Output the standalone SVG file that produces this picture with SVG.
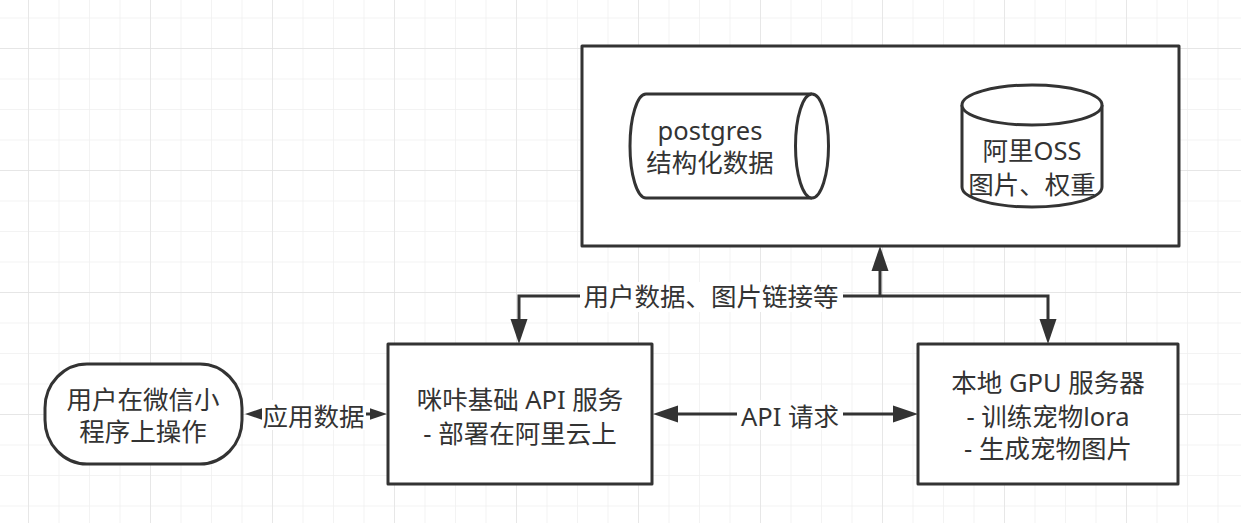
<svg xmlns="http://www.w3.org/2000/svg" width="1241" height="523" viewBox="0 0 1241 523">
<defs>
<pattern id="minor" patternUnits="userSpaceOnUse" x="28" y="48" width="30.5" height="30.5">
<path d="M0,0 H30.5 M0,0 V30.5" fill="none" stroke="#efefef" stroke-width="1.4"/>
</pattern>
<pattern id="major" patternUnits="userSpaceOnUse" x="28" y="48" width="122" height="122">
<path d="M0,0 H122 M0,0 V122" fill="none" stroke="#e2e2e2" stroke-width="1.4"/>
</pattern>
<marker id="arr" markerUnits="userSpaceOnUse" markerWidth="26" markerHeight="18" refX="3" refY="8.5" orient="auto-start-reverse" viewBox="0 0 26 17">
<path d="M0,0 L25,8.5 L0,17 Z" fill="#333333"/>
</marker>
<marker id="arrs" markerUnits="userSpaceOnUse" markerWidth="18" markerHeight="12" refX="2" refY="5.75" orient="auto-start-reverse" viewBox="0 0 18 11.5">
<path d="M0,0 L17,5.75 L0,11.5 Z" fill="#333333"/>
</marker>
<style>
.shape{fill:#ffffff;stroke:#333333;stroke-width:3;stroke-linejoin:round}
.line{fill:none;stroke:#333333;stroke-width:3;stroke-linejoin:miter}
.t{font-family:"Noto Sans","Noto Sans CJK SC",sans-serif;font-size:25.5px;fill:#333333;text-anchor:middle}
.bg{fill:#ffffff}
</style>
</defs>
<g id="grid">
<rect width="1241" height="523" fill="#ffffff"/>
<rect width="1241" height="523" fill="url(#minor)"/>
<rect width="1241" height="523" fill="url(#major)"/>
</g>
<g id="nodes">
<g id="storage">
<rect class="shape" x="582" y="46" width="597" height="200"/>
</g>
<g id="postgres">
<path class="shape" d="M646,94 H812 A16.5,52 0 0 1 812,198 H646 A16,52 0 0 1 646,94 Z"/>
<path class="shape" d="M812,94 A16.5,52 0 0 0 812,198" fill="none"/>
<text class="t" x="710" y="139.5">postgres</text>
<text class="t" x="710" y="172">结构化数据</text>
</g>
<g id="oss">
<path class="shape" d="M962,105 A70,20 0 0 1 1102,105 V187 A70,20 0 0 1 962,187 Z"/>
<path class="shape" d="M962,105 A70,20 0 0 0 1102,105" fill="none"/>
<text class="t" x="1032" y="160">阿里OSS</text>
<text class="t" x="1032" y="194">图片、权重</text>
</g>
<g id="user">
<rect class="shape" x="45" y="364" width="197" height="100" rx="42" ry="44"/>
<text class="t" x="143" y="409">用户在微信小</text>
<text class="t" x="143" y="441">程序上操作</text>
</g>
<g id="api">
<rect class="shape" x="388" y="344" width="264" height="140"/>
<text class="t" x="520" y="409">咪咔基础 API 服务</text>
<text class="t" x="520" y="443">- 部署在阿里云上</text>
</g>
<g id="gpu">
<rect class="shape" x="918" y="344" width="260" height="140"/>
<text class="t" x="1048" y="392">本地 GPU 服务器</text>
<text class="t" x="1048" y="426">- 训练宠物lora</text>
<text class="t" x="1048" y="458">- 生成宠物图片</text>
</g>
</g>
<g id="connectors">
<path class="line" d="M880,296 V268" marker-end="url(#arr)"/>
<path class="line" d="M880,296 H519 V322" marker-end="url(#arr)"/>
<path class="line" d="M880,296 H1048 V322" marker-end="url(#arr)"/>
<rect class="bg" x="580" y="282" width="263" height="30"/>
<text class="t" x="711" y="306">用户数据、图片链接等</text>
<path class="line" d="M260,414 H372" marker-start="url(#arrs)" marker-end="url(#arrs)"/>
<rect class="bg" x="262" y="400" width="104" height="30"/>
<text class="t" x="313.5" y="426">应用数据</text>
<path class="line" d="M675,414 H896" marker-start="url(#arr)" marker-end="url(#arr)"/>
<rect class="bg" x="737" y="400" width="106" height="30"/>
<text class="t" x="790" y="426">API 请求</text>
</g>
</svg>
